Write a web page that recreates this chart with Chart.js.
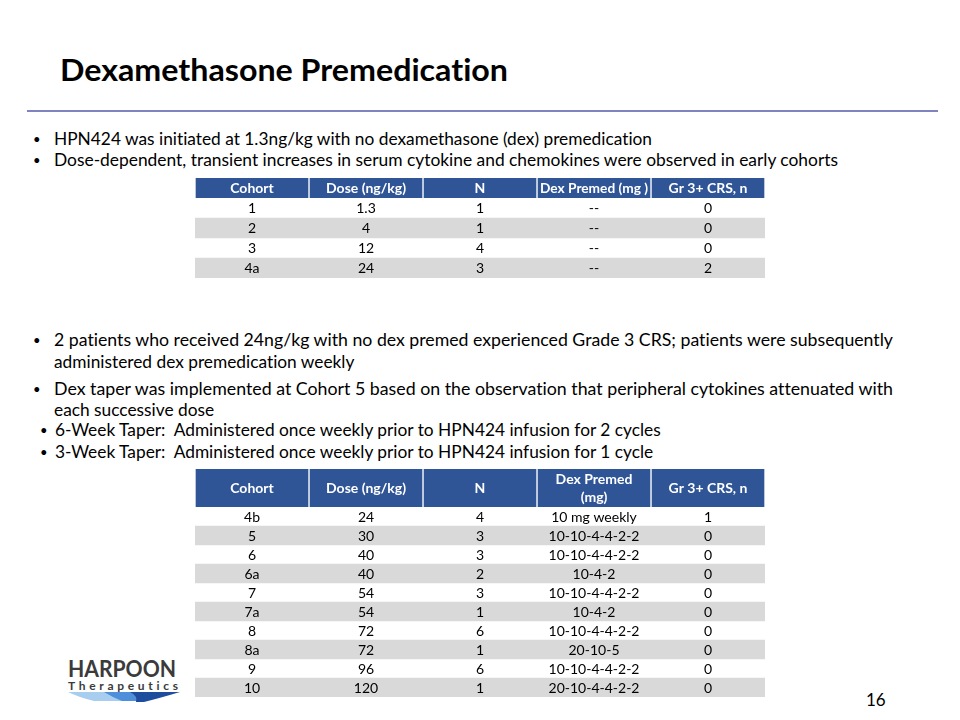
<!DOCTYPE html>
<html>
<head>
<meta charset="utf-8">
<script src="https://cdn.jsdelivr.net/npm/chart.js@4.4.1/dist/chart.umd.min.js"></script>
<style>
  body { margin: 0; width: 960px; height: 720px; position: relative; overflow: hidden; background: #fff;
         font-family: Lato, "Open Sans", sans-serif; color: #000; font-variant-ligatures: none; }
  .ln { position: absolute; white-space: nowrap; line-height: 1; transform-origin: 0 50%; }
  .txt { font-size: 17px; }
  .bul { position: absolute; font-size: 13px; line-height: 1; }
  #title { font-size: 30px; font-weight: bold; }
  #rule { position: absolute; left: 27px; top: 110px; width: 911px; height: 2px; background: #7F84C0; }
  canvas { position: absolute; }
  #t1 { left: 195px; top: 178px; }
  #t2 { left: 195px; top: 469px; }
  #logo { position: absolute; left: 64px; top: 655px; }
  #page { font-size: 17px; }
</style>
</head>
<body>
<div id="title" class="ln" style="left:60px;top:54px" data-w="448">Dexamethasone Premedication</div>
<div id="rule"></div>

<div class="bul" style="left:33px;top:133px">•</div>
<div id="ref1" class="ln txt" style="left:54px;top:130px" data-w="598">HPN424 was initiated at 1.3ng/kg with no dexamethasone (dex) premedication</div>
<div class="bul" style="left:33px;top:154px">•</div>
<div class="ln txt" style="left:54px;top:151px" data-w="784">Dose-dependent, transient increases in serum cytokine and chemokines were observed in early cohorts</div>

<div class="bul" style="left:33px;top:334px">•</div>
<div class="ln txt" style="left:54px;top:331px" data-w="839">2 patients who received 24ng/kg with no dex premed experienced Grade 3 CRS; patients were subsequently</div>
<div class="ln txt" style="left:54px;top:353px">administered dex premedication weekly</div>
<div class="bul" style="left:33px;top:383px">•</div>
<div class="ln txt" style="left:54px;top:380px" data-w="839">Dex taper was implemented at Cohort 5 based on the observation that peripheral cytokines attenuated with</div>
<div class="ln txt" style="left:54px;top:401px">each successive dose</div>
<div class="bul" style="left:40px;top:424px">•</div>
<div class="ln txt" style="left:55px;top:421px">6-Week Taper:&nbsp; Administered once weekly prior to HPN424 infusion for 2 cycles</div>
<div class="bul" style="left:40px;top:446px">•</div>
<div class="ln txt" style="left:55px;top:443px">3-Week Taper:&nbsp; Administered once weekly prior to HPN424 infusion for 1 cycle</div>

<canvas id="t1" width="570" height="100"></canvas>
<canvas id="t2" width="570" height="228"></canvas>

<svg id="logo" width="120" height="50" viewBox="0 0 120 50">
  <text x="4" y="22" font-family="Lato, sans-serif" font-weight="bold" font-size="22" fill="#3b3b3b"
        textLength="108" lengthAdjust="spacingAndGlyphs">HARPOON</text>
  <text x="4" y="35" font-family="Lato, sans-serif" font-weight="bold" font-size="12" fill="#3b3b3b"
        textLength="110" lengthAdjust="spacing">Therapeutics</text>
  <path d="M4 37 L48 37 Q52 42 60 46 L30 46 Q14 42 4 37 Z" fill="#A7CDEF"/>
  <path d="M40 37 L88 37 Q80 42 74 46 L58 46 Q48 42 40 37 Z" fill="#4D8FDB"/>
  <path d="M66 37 L116 37 Q96 43 80 47 L72 47 Q74 41 66 37 Z" fill="#1F4D9E"/>
</svg>

<div id="page" class="ln" style="left:866px;top:691px">16</div>

<script>
// table 1 : no dex premedication
const header1 = ["Cohort", "Dose (ng/kg)", "N", "Dex Premed (mg )", "Gr 3+ CRS, n"];
const cohort1 = ["1", "2", "3", "4a"];
const dose1 = [1.3, 4, 12, 24];
const n1 = [1, 1, 4, 3];
const premed1 = ["--", "--", "--", "--"];
const crs1 = [0, 0, 0, 2];

// table 2 : with dex premedication
const header2 = ["Cohort", "Dose (ng/kg)", "N", "Dex Premed\n(mg)", "Gr 3+ CRS, n"];
const cohort2 = ["4b", "5", "6", "6a", "7", "7a", "8", "8a", "9", "10"];
const dose2 = [24, 30, 40, 40, 54, 54, 72, 72, 96, 120];
const n2 = [4, 3, 3, 2, 3, 1, 6, 1, 6, 1];
const premed2 = ["10 mg weekly", "10-10-4-4-2-2", "10-10-4-4-2-2", "10-4-2", "10-10-4-4-2-2",
                 "10-4-2", "10-10-4-4-2-2", "20-10-5", "10-10-4-4-2-2", "20-10-4-4-2-2"];
const crs2 = [1, 0, 0, 0, 0, 0, 0, 0, 0, 0];

const headerBlue = "#2F5597";
const stripeGray = "#D9D9D9";

// write the cell texts at the positions given by the scales
const cellText = {
  id: "cellText",
  afterDatasetsDraw(chart, args, opts) {
    const { ctx } = chart;
    const x = chart.scales.x, y = chart.scales.y;
    const hs = opts.headerSlots;
    ctx.save();
    ctx.textAlign = "center";
    ctx.textBaseline = "middle";
    const cw = x.getPixelForValue(1) - x.getPixelForValue(0);
    const hy = (y.getPixelForValue(0) + y.getPixelForValue(hs - 1)) / 2;
    ctx.fillStyle = "#fff";
    ctx.font = "bold 14px Lato, sans-serif";
    opts.header.forEach((h, c) => {
      const cx = x.getPixelForValue(c + 0.5);
      const parts = h.split("\n");
      parts.forEach((p, k) => ctx.fillText(p, cx, hy + (k - (parts.length - 1) / 2) * 18, cw - 6));
    });
    ctx.fillStyle = "#000";
    ctx.font = "14px Lato, sans-serif";
    opts.columns.forEach((col, c) => {
      const cx = x.getPixelForValue(c + 0.5);
      col.forEach((v, r) => ctx.fillText(String(v), cx, y.getPixelForValue(r + hs) + 0.5, cw - 6));
    });
    ctx.restore();
  }
};

function drawTable(id, header, columns, headerSlots) {
  const labels = [];
  for (let i = 0; i < headerSlots; i++) labels.push("head" + i);
  columns[0].forEach(c => labels.push(c));
  const nCols = header.length;
  const datasets = [{
    data: labels.map((l, i) => (i >= headerSlots && (i - headerSlots) % 2 === 1) ? [0, nCols] : null),
    backgroundColor: stripeGray,
    borderWidth: 0
  }];
  header.forEach((h, c) => {
    datasets.push({
      data: labels.map((l, i) => i < headerSlots ? [c, c + 1] : null),
      backgroundColor: headerBlue,
      borderColor: "#fff",
      borderWidth: { left: 1, right: 1, top: 0, bottom: 0 },
      borderSkipped: false
    });
  });
  datasets.forEach(d => {
    d.grouped = false;
    d.barPercentage = 1;
    d.categoryPercentage = 1;
  });
  new Chart(document.getElementById(id), {
    type: "bar",
    data: { labels: labels, datasets: datasets },
    options: {
      indexAxis: "y",
      responsive: false,
      animation: false,
      events: [],
      layout: { padding: 0 },
      plugins: {
        legend: { display: false },
        tooltip: { enabled: false },
        cellText: { header: header, columns: columns, headerSlots: headerSlots }
      },
      scales: {
        x: { type: "linear", min: 0, max: nCols, display: false },
        y: { type: "category", display: false }
      }
    },
    plugins: [cellText]
  });
}

drawTable("t1", header1, [cohort1, dose1, n1, premed1, crs1], 1);
drawTable("t2", header2, [cohort2, dose2, n2, premed2, crs2], 2);

// justified lines get their slide width, the other lines the same squeeze as the first one
function fitLines() {
  const all = document.querySelectorAll(".ln");
  all.forEach(el => { el.style.transform = "none"; });
  const ref = document.getElementById("ref1");
  const k = ref.dataset.w / ref.getBoundingClientRect().width;
  all.forEach(el => {
    const w = el.getBoundingClientRect().width;
    let s = 1;
    if (el.dataset.w) s = el.dataset.w / w;
    else if (el.classList.contains("txt")) s = k;
    el.style.transform = "scaleX(" + s + ")";
  });
}
fitLines();
document.fonts.ready.then(fitLines);
</script>
</body>
</html>
